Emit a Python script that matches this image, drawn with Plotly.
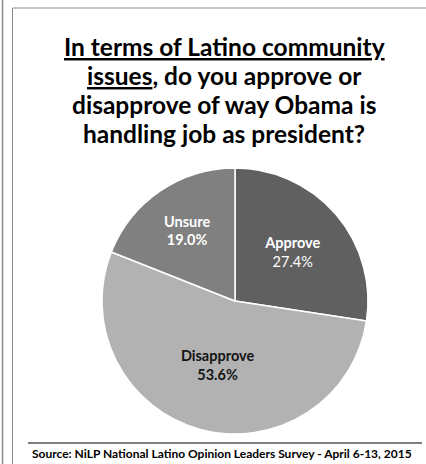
import plotly.graph_objects as go

# Survey responses
categories = ["Approve", "Disapprove", "Unsure"]
shares = [27.4, 53.6, 19.0]
slice_colors = ["#606060", "#b2b2b2", "#808080"]
label_colors = ["white", "#141414", "white"]
label_templates = [
    "<b>%{label}</b><br>%{value:.1f}%",
    "<b>%{label}<br>%{value:.1f}%</b>",
    "<b>%{label}<br>%{value:.1f}%</b>",
]

title_lines = [
    "<u>In terms of Latino community</u>",
    "<u>issues</u>, do you approve or",
    "disapprove of way Obama is",
    "handling job as president?",
]
source_note = "Source: NiLP National Latino Opinion Leaders Survey - April 6-13, 2015"

W, H = 426, 464
FONT = "Lato, 'Open Sans', sans-serif"

fig = go.Figure(
    go.Pie(
        labels=categories,
        values=shares,
        sort=False,
        direction="clockwise",
        rotation=0,
        marker=dict(colors=slice_colors, line=dict(color="white", width=1.5)),
        texttemplate=label_templates,
        textposition="inside",
        insidetextorientation="horizontal",
        textfont=dict(family=FONT, size=14.5, color=label_colors),
        hoverinfo="label+value",
        showlegend=False,
        domain=dict(x=[(235 - 133) / W, (235 + 133) / W], y=[1 - 434 / H, 1 - 168 / H]),
    )
)

annotations = []
for i, line in enumerate(title_lines):
    annotations.append(
        dict(
            text=f"<b>{line}</b>",
            x=224 / W,
            y=1 - (47 + 29 * i) / H,
            xref="paper",
            yref="paper",
            xanchor="center",
            yanchor="middle",
            showarrow=False,
            font=dict(family=FONT, size=24.5, color="black"),
        )
    )
annotations.append(
    dict(
        text=f"<b>{source_note}</b>",
        x=30 / W,
        y=1 - 453 / H,
        xref="paper",
        yref="paper",
        xanchor="left",
        yanchor="middle",
        showarrow=False,
        font=dict(family=FONT, size=12, color="black"),
    )
)

shapes = [
    # outer left rule
    dict(type="line", xref="paper", yref="paper", x0=2.5 / W, x1=2.5 / W, y0=0, y1=1,
         line=dict(color="#8a8a8a", width=1.5)),
    # inner frame: left and top edges
    dict(type="line", xref="paper", yref="paper", x0=12.5 / W, x1=12.5 / W, y0=0, y1=1 - 8 / H,
         line=dict(color="#8a8a8a", width=1)),
    dict(type="line", xref="paper", yref="paper", x0=12.5 / W, x1=1, y0=1 - 8 / H, y1=1 - 8 / H,
         line=dict(color="#8a8a8a", width=1)),
    # rule above the source note
    dict(type="line", xref="paper", yref="paper", x0=28 / W, x1=422 / W, y0=1 - 443 / H, y1=1 - 443 / H,
         line=dict(color="black", width=1)),
]

fig.update_layout(
    width=W,
    height=H,
    margin=dict(l=0, r=0, t=0, b=0),
    paper_bgcolor="white",
    plot_bgcolor="white",
    annotations=annotations,
    shapes=shapes,
)

fig.write_html("out.html")
